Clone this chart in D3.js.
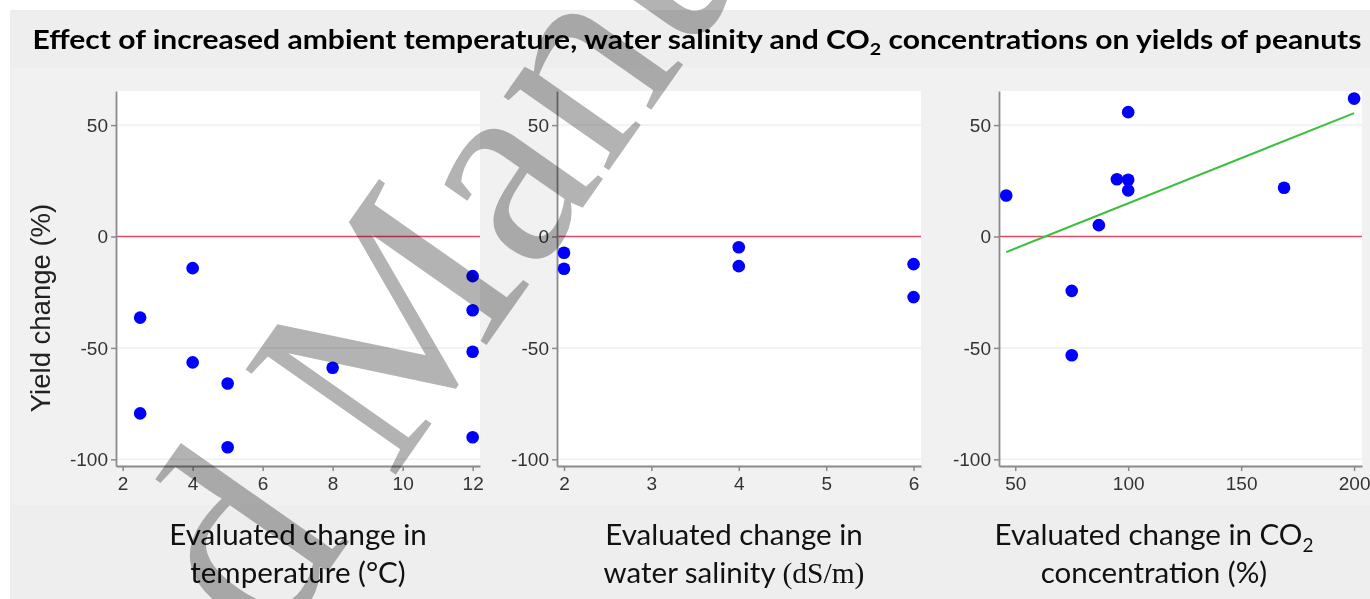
<!DOCTYPE html>
<html>
<head>
<meta charset="utf-8">
<script src="https://cdn.jsdelivr.net/npm/d3@7"></script>
<style>
  body { margin: 0; background: #fff; }
  svg { display: block; }
</style>
</head>
<body>
<div id="chart"></div>
<script>
// data
const tempX = [2.5, 2.5, 4, 4, 5, 5, 8, 12, 12, 12, 12];
const tempY = [-36.4, -79.4, -14.2, -56.5, -66, -94.6, -58.9, -17.8, -33.1, -51.7, -90.1];

const salX = [2, 2, 4, 4, 6, 6];
const salY = [-7.3, -14.5, -4.8, -13.3, -12.4, -27.2];

const co2X = [46, 75, 75, 87, 95, 100, 100, 100, 169, 200];
const co2Y = [18.4, -24.4, -53.3, 5.1, 25.7, 25.5, 20.7, 55.8, 21.9, 61.9];

// fitted line shown on the CO2 panel (end points)
const fitX = [46, 200];
const fitY = [-7.0, 55.4];

const yTicks = [50, 0, -50, -100];
const tempTicks = [2, 4, 6, 8, 10, 12];
const salTicks = [2, 3, 4, 5, 6];
const co2Ticks = [50, 100, 150, 200];

const W = 1370, H = 599;
const svg = d3.select("#chart").append("svg")
  .attr("width", W)
  .attr("height", H);

// background
svg.append("rect")
  .attr("x", 10).attr("y", 10)
  .attr("width", W - 10).attr("height", H - 10)
  .attr("fill", "#eeeeee");

// title
const title = svg.append("text")
  .attr("x", 697).attr("y", 49)
  .attr("text-anchor", "middle")
  .attr("font-family", "Lato, 'Open Sans', sans-serif")
  .attr("font-weight", "bold")
  .attr("font-size", 26)
  .attr("fill", "#000");
title.append("tspan").text("Effect of increased ambient temperature, water salinity and CO");
title.append("tspan").attr("dy", 6).attr("font-size", 17).text("2");
title.append("tspan").attr("dy", -6).text(" concentrations on yields of peanuts");
title.attr("textLength", 1329).attr("lengthAdjust", "spacingAndGlyphs");

// shared y scale
const yScale = d3.scaleLinear().domain([-103, 65.3]).range([466, 91]);

const panels = [
  { xs: tempX, ys: tempY, ticks: tempTicks, dom: [1.81, 12.21], range: [116, 480], bg: [12, 494], cx: 298,
    line1: [["Evaluated change in"]],
    line2: [["temperature (°C)"]] },
  { xs: salX, ys: salY, ticks: salTicks, dom: [1.92, 6.085], range: [557, 921], bg: [494, 936], cx: 734,
    line1: [["Evaluated change in"]],
    line2: [["water salinity "], ["(dS/m)", "serif"]] },
  { xs: co2X, ys: co2Y, ticks: co2Ticks, dom: [42.8, 203.5], range: [999, 1362], bg: [936, 1370], cx: 1154,
    line1: [["Evaluated change in CO"], ["2", "sub"]],
    line2: [["concentration (%)"]],
    fit: true }
];

panels.forEach(p => {
  const x = d3.scaleLinear().domain(p.dom).range(p.range);
  const g = svg.append("g");

  // graph region of each panel
  g.append("rect")
    .attr("x", p.bg[0]).attr("y", 68)
    .attr("width", p.bg[1] - p.bg[0]).attr("height", 437)
    .attr("fill", "#f1f1f1");

  // plot region
  g.append("rect")
    .attr("x", p.range[0]).attr("y", 91)
    .attr("width", p.range[1] - p.range[0]).attr("height", 466 - 91)
    .attr("fill", "#fff");

  // grid
  g.selectAll(".grid")
    .data(yTicks.filter(d => d !== 0))
    .join("line")
      .attr("x1", p.range[0]).attr("x2", p.range[1])
      .attr("y1", d => yScale(d)).attr("y2", d => yScale(d))
      .attr("stroke", "#eaf2f2")
      .attr("stroke-width", 1.5);

  // zero reference line
  g.append("line")
    .attr("x1", p.range[0]).attr("x2", p.range[1])
    .attr("y1", yScale(0)).attr("y2", yScale(0))
    .attr("stroke", "#e24a66")
    .attr("stroke-width", 1.5);

  // axes
  const fmt = d => String(d);
  const yAxis = g.append("g")
    .attr("transform", `translate(${p.range[0]},0)`)
    .call(d3.axisLeft(yScale).tickValues(yTicks).tickFormat(fmt)
      .tickSize(5).tickSizeOuter(0).tickPadding(3));
  const xAxis = g.append("g")
    .attr("transform", "translate(0,466)")
    .call(d3.axisBottom(x).tickValues(p.ticks).tickFormat(fmt)
      .tickSize(5).tickSizeOuter(0).tickPadding(6));

  [yAxis, xAxis].forEach(a => {
    a.select(".domain").attr("stroke", "#8a8a8a").attr("stroke-width", 1.8);
    a.selectAll(".tick line").attr("stroke", "#8a8a8a").attr("stroke-width", 1.5);
    a.selectAll(".tick text")
      .attr("fill", "#333")
      .attr("font-family", "'Liberation Sans', Arial, sans-serif")
      .attr("font-size", 19);
  });

  // fitted line
  if (p.fit) {
    g.append("path")
      .datum(d3.zip(fitX, fitY))
      .attr("d", d3.line().x(d => x(d[0])).y(d => yScale(d[1])))
      .attr("fill", "none")
      .attr("stroke", "#3cbf3c")
      .attr("stroke-width", 2);
  }

  // dots
  g.selectAll(".dot")
    .data(d3.zip(p.xs, p.ys))
    .join("circle")
      .attr("cx", d => x(d[0]))
      .attr("cy", d => yScale(d[1]))
      .attr("r", 6.3)
      .attr("fill", "#0000ff");

  // axis titles
  [[p.line1, 545], [p.line2, 583]].forEach(([parts, yy]) => {
    const t = g.append("text")
      .attr("x", p.cx).attr("y", yy)
      .attr("text-anchor", "middle")
      .attr("font-family", "Lato, 'Open Sans', sans-serif")
      .attr("font-size", 29.5)
      .attr("fill", "#111");
    parts.forEach(([s, kind]) => {
      const ts = t.append("tspan").text(s);
      if (kind === "serif") ts.attr("font-family", "'Liberation Serif', 'DejaVu Serif', serif");
      if (kind === "sub") ts.attr("font-size", 19).attr("dy", 7);
    });
  });
});

// y axis title
svg.append("text")
  .attr("transform", "translate(50,308) rotate(-90)")
  .attr("text-anchor", "middle")
  .attr("font-family", "'Liberation Sans', Arial, sans-serif")
  .attr("font-size", 27.5)
  .attr("fill", "#222")
  .text("Yield change (%)");

// watermark
svg.append("g")
  .attr("transform", "translate(517,190) rotate(-55)")
  .append("text")
    .attr("x", -1438).attr("y", 64)
    .attr("font-family", "'Liberation Serif', 'Times New Roman', serif")
    .attr("font-size", 280)
    .attr("fill", "#b3b3b3")
    .style("mix-blend-mode", "multiply")
    .text("Accepted Manuscript");
</script>
</body>
</html>
